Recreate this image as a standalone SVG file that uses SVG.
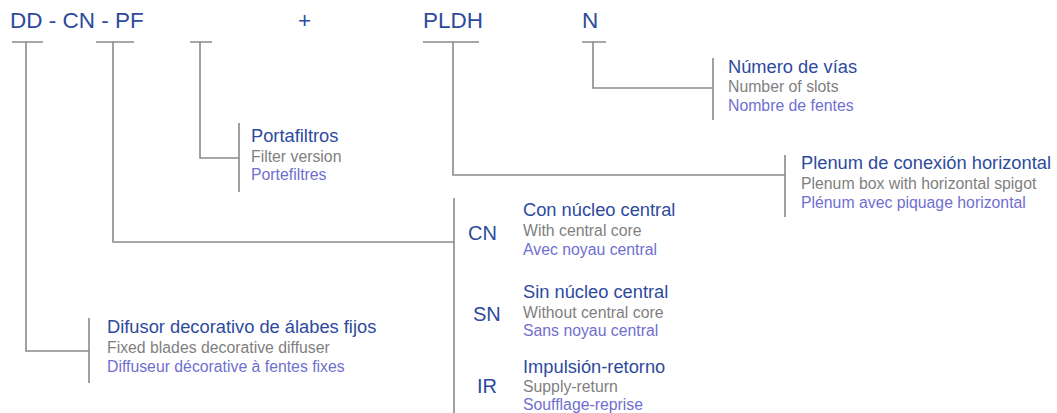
<svg xmlns="http://www.w3.org/2000/svg" width="1057" height="413" viewBox="0 0 1057 413">
<style>
.code{font-family:"Liberation Sans",Arial,sans-serif;font-size:22.5px;fill:#2d4a9e}
.opt{font-family:"Liberation Sans",Arial,sans-serif;font-size:20px;fill:#2d4a9e}
.t{font-family:"Liberation Sans",Arial,sans-serif;font-size:18.3px;fill:#2d4a9e}
.e{font-family:"Liberation Sans",Arial,sans-serif;font-size:15.8px;fill:#7f7f7f}
.f{font-family:"Liberation Sans",Arial,sans-serif;font-size:15.8px;fill:#6f6fd0}
.ln{stroke:#8a8a8a;stroke-width:1.6;fill:none}
</style>
<rect width="1057" height="413" fill="#ffffff"/>
<g id="code">
<text class="code" x="10" y="28">DD - CN - PF</text>
<text class="code" x="298" y="28">+</text>
<text class="code" x="423" y="28">PLDH</text>
<text class="code" x="582" y="28">N</text>
</g>
<g id="connectors" class="ln">
<path d="M12,42H43M26,42V351H89M89,318V383"/>
<path d="M96,42H134M113,42V242H454M454,198V413"/>
<path d="M190,42H212M200,42V158H239M239,123V192"/>
<path d="M423,42H479M453,42V175H785M785,155V217"/>
<path d="M582,42H606M593,42V88H713M713,58V120"/>
</g>
<g id="node-n">
<text class="t" x="728" y="73">Número de vías</text>
<text class="e" x="728" y="92">Number of slots</text>
<text class="f" x="728" y="111">Nombre de fentes</text>
</g>
<g id="node-pf">
<text class="t" x="251" y="142">Portafiltros</text>
<text class="e" x="251" y="162">Filter version</text>
<text class="f" x="251" y="180">Portefiltres</text>
</g>
<g id="node-pldh">
<text class="t" x="801" y="169">Plenum de conexión horizontal</text>
<text class="e" x="801" y="189">Plenum box with horizontal spigot</text>
<text class="f" x="801" y="208">Plénum avec piquage horizontal</text>
</g>
<g id="node-cn">
<text class="opt" x="468" y="240">CN</text>
<text class="t" x="523" y="216">Con núcleo central</text>
<text class="e" x="523" y="236">With central core</text>
<text class="f" x="523" y="255">Avec noyau central</text>
</g>
<g id="node-sn">
<text class="opt" x="473" y="321">SN</text>
<text class="t" x="523" y="298">Sin núcleo central</text>
<text class="e" x="523" y="318">Without central core</text>
<text class="f" x="523" y="336">Sans noyau central</text>
</g>
<g id="node-ir">
<text class="opt" x="477" y="393">IR</text>
<text class="t" x="523" y="373">Impulsión-retorno</text>
<text class="e" x="523" y="392">Supply-return</text>
<text class="f" x="523" y="410">Soufflage-reprise</text>
</g>
<g id="node-dd">
<text class="t" x="107" y="333">Difusor decorativo de álabes fijos</text>
<text class="e" x="107" y="353">Fixed blades decorative diffuser</text>
<text class="f" x="107" y="372">Diffuseur décorative à fentes fixes</text>
</g>
</svg>
